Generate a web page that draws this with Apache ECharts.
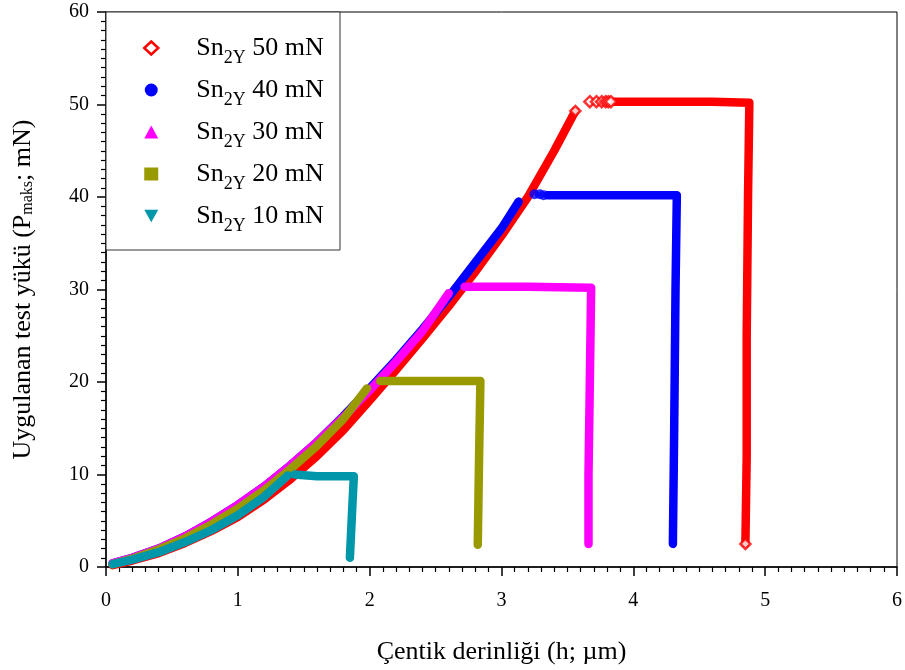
<!DOCTYPE html>
<html><head><meta charset="utf-8">
<script src="https://cdn.jsdelivr.net/npm/echarts@6/dist/echarts.min.js"></script>
<style>html,body{margin:0;padding:0;background:#fff}#c{width:905px;height:670px}</style>
</head><body><div id="c"></div>
<script>
var names = ['Sn2Y 50 mN','Sn2Y 40 mN','Sn2Y 30 mN','Sn2Y 20 mN','Sn2Y 10 mN'];
var xTicks = [0,1,2,3,4,5,6];
var yTicks = [0,10,20,30,40,50,60];
// [h (µm), P (mN)]
var s50 = [[0.05,0.2],[0.2,0.7],[0.4,1.5],[0.6,2.6],[0.8,3.9],[1.0,5.4],[1.2,7.3],[1.4,9.5],[1.6,12.0],[1.8,14.8],[2.0,18.0],[2.2,21.3],[2.4,24.7],[2.6,28.2],[2.8,31.9],[3.0,35.8],[3.2,40.0],[3.4,45.0],[3.56,49.3]];
var s50hold = [[3.85,50.3],[4.2,50.3],[4.6,50.3],[4.88,50.2],[4.87,40],[4.86,25],[4.86,12],[4.85,2.5]];
var s50gap = [[3.67,50.3],[3.72,50.3],[3.76,50.3],[3.79,50.3],[3.81,50.3],[3.83,50.3]];
var s40 = [[0.05,0.4],[0.2,1.0],[0.4,2.0],[0.6,3.3],[0.8,4.9],[1.0,6.7],[1.2,8.7],[1.4,11.0],[1.6,13.5],[1.8,16.3],[2.0,19.3],[2.2,22.4],[2.4,25.7],[2.6,29.2],[2.8,32.9],[3.0,36.6],[3.13,39.5]];
var s40hold = [[3.35,40.2],[3.8,40.2],[4.33,40.2],[4.32,30],[4.31,15],[4.30,2.5]];
var s40gap = [[3.25,40.3],[3.29,40.3],[3.32,40.2]];
var s30 = [[0.05,0.4],[0.2,1.0],[0.4,2.0],[0.6,3.3],[0.8,4.9],[1.0,6.7],[1.2,8.7],[1.4,11.0],[1.6,13.5],[1.8,16.2],[2.0,19.1],[2.2,22.2],[2.4,25.5],[2.6,29.6]];
var s30hold = [[2.72,30.3],[3.2,30.3],[3.68,30.2],[3.67,20],[3.66,10],[3.66,2.5]];
var s20 = [[0.05,0.3],[0.2,0.9],[0.4,1.9],[0.6,3.1],[0.8,4.6],[1.0,6.3],[1.2,8.3],[1.4,10.6],[1.6,13.1],[1.8,16.0],[1.98,19.3]];
var s20hold = [[2.08,20.1],[2.5,20.1],[2.84,20.1],[2.83,12],[2.82,2.4]];
var s10 = [[0.05,0.3],[0.2,0.8],[0.4,1.6],[0.6,2.7],[0.8,4.0],[1.0,5.6],[1.2,7.6],[1.38,9.9]];
var s10hold = [[1.43,10.0],[1.6,9.8],[1.88,9.8],[1.87,7],[1.86,4],[1.85,1.0]];

var colors = ['#ff0000','#0000ff','#ff00ff','#999900','#0097aa'];
var icons = ['diamond','circle','triangle','rect','path://M0,0 L10,0 L5,9 Z'];

function lineS(i, data){
  return {name: names[i], type:'line', data:data, symbol:'none', silent:true,
    lineStyle:{color:colors[i], width:8.5, cap:'round', join:'round'}, itemStyle:{color:colors[i]}, z:2+i};
}
function dotS(i, data, sym, size, filled){
  return {name:names[i], type:'scatter', data:data, symbol:sym, symbolSize:size, z:2+i,
    itemStyle: filled ? {color:colors[i]} : {color:'#fff', borderColor:colors[i], borderWidth:2.5}};
}

var serif = 'Liberation Serif, Times New Roman, serif';
var chart = echarts.init(document.getElementById('c'));
chart.setOption({
  animation:false,
  backgroundColor:'#fff',
  grid:{left:106, right:8, top:12, bottom:103, show:true, borderColor:'#000', borderWidth:1, backgroundColor:'transparent'},
  graphic:[{type:'rect', shape:{x:106, y:12, width:234, height:238}, style:{fill:'#fff', stroke:'#333', lineWidth:1}, z:50}],
  legend:{
    orient:'vertical', left:138, top:24, itemWidth:14, itemHeight:13, itemGap:4, z:60,
    data: names.map(function(n,i){
      return {name:n, icon:icons[i], itemStyle: i===0 ? {color:'#fff', borderColor:colors[0], borderWidth:2.5} : {color:colors[i], borderWidth:0}};
    }),
    formatter:function(n){ var p=n.split(' '); return '{a|Sn}{b|2Y}{a| '+p[1]+' '+p[2]+'}'; },
    textStyle:{padding:[0,0,0,33], rich:{
      a:{fontFamily:serif, fontSize:26, color:'#000', lineHeight:26},
      b:{fontFamily:serif, fontSize:18, color:'#000', lineHeight:26, padding:[20,0,0,0]}
    }}
  },
  xAxis:{type:'value', min:0, max:6, interval:1,
    name:'Çentik derinliği (h; µm)', nameLocation:'middle', nameGap:72,
    nameTextStyle:{fontFamily:serif, fontSize:26, color:'#000'},
    axisLine:{show:true, onZero:false, lineStyle:{color:'#000', width:1.5}},
    axisTick:{show:true, inside:false, length:9, lineStyle:{color:'#000', width:1.5}},
    minorTick:{show:true, splitNumber:10, length:5, lineStyle:{color:'#000', width:1.2}},
    splitLine:{show:false},
    axisLabel:{margin:24, fontFamily:serif, fontSize:20, color:'#000', formatter:function(v){return xTicks.indexOf(v)>=0?String(v):'';}}
  },
  yAxis:{type:'value', min:0, max:60, interval:10,
    name:'Uygulanan test yükü (P{s|maks}; mN)', nameLocation:'middle', nameGap:70,
    nameTextStyle:{fontFamily:serif, fontSize:26, color:'#000', rich:{s:{fontFamily:serif, fontSize:16, color:'#000', verticalAlign:'bottom', lineHeight:12}}},
    axisLine:{show:true, onZero:false, lineStyle:{color:'#000', width:1.5}},
    axisTick:{show:true, inside:false, length:9, lineStyle:{color:'#000', width:1.5}},
    minorTick:{show:true, splitNumber:10, length:5, lineStyle:{color:'#000', width:1.2}},
    splitLine:{show:false},
    axisLabel:{margin:17, fontFamily:serif, fontSize:20, color:'#000', formatter:function(v){return yTicks.indexOf(v)>=0?String(v):'';}}
  },
  series:[
    lineS(0,s50), lineS(0,s50hold), dotS(0,s50gap,'diamond',11,false), dotS(0,[s50[s50.length-1], s50hold[s50hold.length-1]],'diamond',10,false),
    lineS(1,s40), lineS(1,s40hold), dotS(1,s40gap,'circle',10,true),
    lineS(2,s30), lineS(2,s30hold),
    lineS(3,s20), lineS(3,s20hold),
    lineS(4,s10), lineS(4,s10hold)
  ]
});
</script></body></html>
